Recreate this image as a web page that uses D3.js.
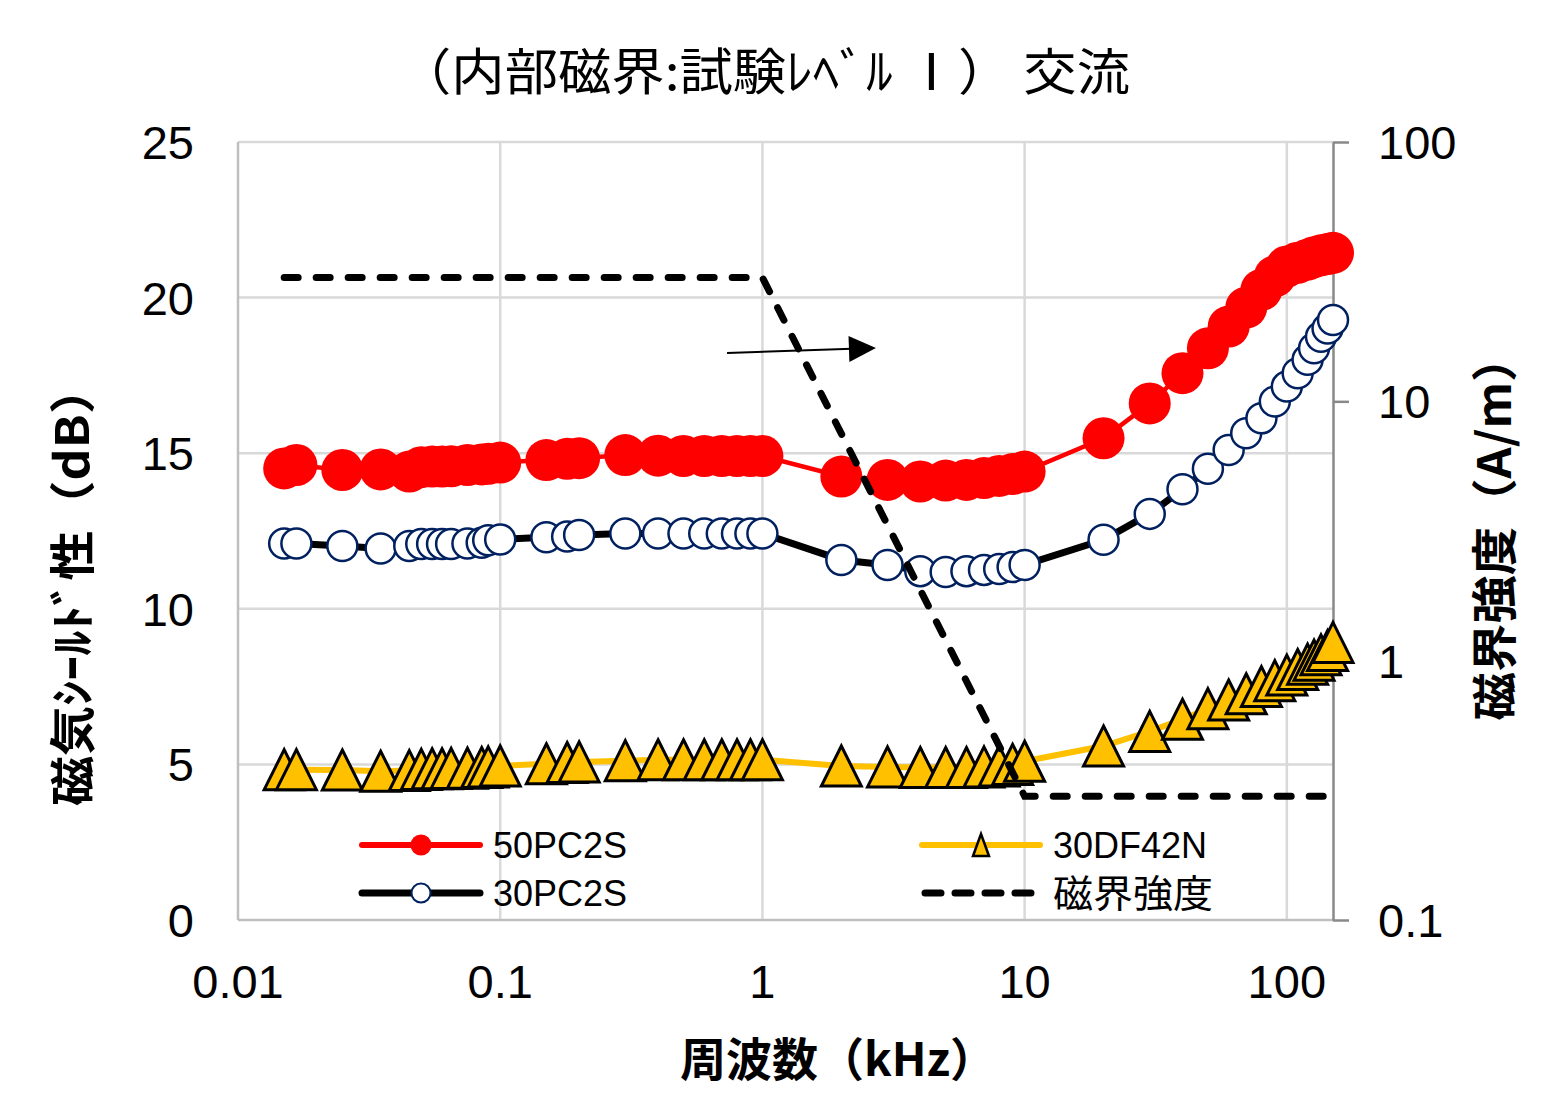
<!DOCTYPE html>
<html><head><meta charset="utf-8">
<script src="https://cdn.jsdelivr.net/npm/d3@7"></script>
<style>
html,body{margin:0;padding:0;background:#fff;}
svg{display:block;}
</style></head>
<body>
<svg id="chart" width="1559" height="1100"></svg>
<script>
// ---- data ----
const freq = [0.015, 0.0167, 0.025, 0.035, 0.045, 0.05, 0.055, 0.06, 0.065, 0.075, 0.085, 0.09, 0.1,
  0.15, 0.18, 0.2, 0.3, 0.4, 0.5, 0.6, 0.7, 0.8, 0.9, 1,
  2, 3, 4, 5, 6, 7, 8, 9, 10,
  20, 30, 40, 50, 60, 70, 80, 90, 100, 110, 120, 127, 135, 143, 150];
const s50PC2S = [14.51, 14.62, 14.46, 14.48, 14.41, 14.55, 14.57, 14.57, 14.58, 14.62, 14.64, 14.66, 14.70,
  14.78, 14.82, 14.84, 14.94, 14.92, 14.91, 14.91, 14.91, 14.91, 14.91, 14.91,
  14.25, 14.14, 14.09, 14.12, 14.14, 14.20, 14.27, 14.33, 14.41,
  15.48, 16.60, 17.57, 18.37, 19.07, 19.68, 20.25, 20.68, 21.00, 21.12, 21.22, 21.30, 21.36, 21.40, 21.44];
const s30PC2S = [12.10, 12.10, 12.02, 11.94, 12.02, 12.08, 12.08, 12.08, 12.08, 12.10, 12.12, 12.20, 12.23,
  12.30, 12.32, 12.37, 12.42, 12.42, 12.42, 12.42, 12.42, 12.42, 12.42, 12.42,
  11.57, 11.41, 11.21, 11.18, 11.21, 11.25, 11.28, 11.34, 11.41,
  12.22, 13.05, 13.84, 14.50, 15.10, 15.64, 16.12, 16.66, 17.14, 17.57, 18.00, 18.37, 18.74, 19.01, 19.28];
const s30DF42N = [4.83, 4.83, 4.82, 4.78, 4.80, 4.84, 4.86, 4.86, 4.87, 4.88, 4.90, 4.92, 4.95,
  5.02, 5.06, 5.08, 5.12, 5.15, 5.15, 5.15, 5.15, 5.15, 5.15, 5.15,
  4.95, 4.92, 4.90, 4.90, 4.90, 4.92, 4.95, 5.00, 5.10,
  5.59, 6.06, 6.45, 6.79, 7.07, 7.27, 7.50, 7.69, 7.87, 8.05, 8.22, 8.35, 8.52, 8.66, 8.92];
const fieldFreq = [0.015, 1, 10, 150];
const fieldStrength = [30, 30, 0.3, 0.3];
const xTicks = [0.01, 0.1, 1, 10, 100];
const xTickLabels = ["0.01", "0.1", "1", "10", "100"];
const yTicks = [0, 5, 10, 15, 20, 25];
const y2Ticks = [0.1, 1, 10, 100];
const y2TickLabels = ["0.1", "1", "10", "100"];
const arrowFreq = [0.733, 2.71];
const arrowDb = [18.22, 18.38];
const seriesNames = ["50PC2S", "30PC2S", "30DF42N", "磁界強度"];
const titleText = "（内部磁界:試験ﾚﾍﾞﾙ Ⅰ） 交流";
const xTitle = "周波数（kHz）";
const yTitle = "磁気ｼｰﾙﾄﾞ性（dB）";
const y2Title = "磁界強度（A/m）";

// ---- layout ----
const L = 238, R = 1333, T = 142, B = 920;
const svg = d3.select("#chart");
const num = "'Liberation Sans', Arial, sans-serif";
const jp = "'Noto Sans CJK JP', sans-serif";

const x = d3.scaleLog().domain([0.01, 150]).range([L, R]);
const y = d3.scaleLinear().domain([0, 25]).range([B, T]);
const y2 = d3.scaleLog().domain([0.1, 100]).range([B, T]);

// gridlines
const grid = svg.append("g");
grid.selectAll("line.h").data(yTicks.filter(d => d > 0)).join("line")
  .attr("x1", L).attr("x2", R).attr("y1", d => y(d)).attr("y2", d => y(d))
  .attr("stroke", "#d9d9d9").attr("stroke-width", 2.5);
grid.selectAll("line.v").data(xTicks.filter(d => d > 0.01)).join("line")
  .attr("x1", d => x(d)).attr("x2", d => x(d)).attr("y1", T).attr("y2", B)
  .attr("stroke", "#d9d9d9").attr("stroke-width", 2.5);

// axes lines
svg.append("line").attr("x1", L).attr("x2", L).attr("y1", T).attr("y2", B)
  .attr("stroke", "#bfbfbf").attr("stroke-width", 2.5);
svg.append("line").attr("x1", L).attr("x2", R).attr("y1", B).attr("y2", B)
  .attr("stroke", "#bfbfbf").attr("stroke-width", 2.5);

// right axis with d3 axis
const yAxisR = d3.axisRight(y2).tickValues(y2Ticks).tickFormat(() => "").tickSize(16).tickSizeOuter(0);
const gR = svg.append("g").attr("transform", `translate(${R},0)`).call(yAxisR);
gR.select(".domain").attr("stroke", "#898989").attr("stroke-width", 2.5);
gR.selectAll(".tick line").attr("stroke", "#898989").attr("stroke-width", 2.5);
svg.append("g").selectAll("text").data(y2Ticks).join("text")
  .attr("x", 1378).attr("y", d => y2(d) + 17)
  .attr("font-family", num).attr("font-size", 47).attr("fill", "#000")
  .text((d, i) => y2TickLabels[i]);

// left tick labels
svg.append("g").selectAll("text").data(yTicks).join("text")
  .attr("x", 194).attr("y", d => y(d) + 17).attr("text-anchor", "end")
  .attr("font-family", num).attr("font-size", 47).attr("fill", "#000")
  .text(d => d);
// bottom tick labels
svg.append("g").selectAll("text").data(xTicks).join("text")
  .attr("x", d => x(d)).attr("y", 998).attr("text-anchor", "middle")
  .attr("font-family", num).attr("font-size", 47).attr("fill", "#000")
  .text((d, i) => xTickLabels[i]);

// series data
const d50 = freq.map((f, i) => [f, s50PC2S[i]]);
const d30 = freq.map((f, i) => [f, s30PC2S[i]]);
const dDF = freq.map((f, i) => [f, s30DF42N[i]]);
const dField = fieldFreq.map((f, i) => [f, fieldStrength[i]]);
const line = d3.line().x(d => x(d[0])).y(d => y(d[1]));
const line2 = d3.line().x(d => x(d[0])).y(d => y2(d[1]));

const tri = s => `M0,${-s}L${s},${s}L${-s},${s}Z`;

// 50PC2S
svg.append("path").attr("d", line(d50)).attr("fill", "none").attr("stroke", "#ff0000").attr("stroke-width", 4.5);
svg.append("g").selectAll("circle").data(d50).join("circle")
  .attr("cx", d => x(d[0])).attr("cy", d => y(d[1])).attr("r", 21).attr("fill", "#ff0000");
// 30PC2S
svg.append("path").attr("d", line(d30)).attr("fill", "none").attr("stroke", "#000").attr("stroke-width", 7);
svg.append("g").selectAll("circle").data(d30).join("circle")
  .attr("cx", d => x(d[0])).attr("cy", d => y(d[1])).attr("r", 15)
  .attr("fill", "#fff").attr("stroke", "#002060").attr("stroke-width", 2.5);
// 30DF42N
svg.append("path").attr("d", line(dDF)).attr("fill", "none").attr("stroke", "#ffc000").attr("stroke-width", 6);
svg.append("g").selectAll("path").data(dDF).join("path")
  .attr("transform", d => `translate(${x(d[0])},${y(d[1])})`).attr("d", tri(20))
  .attr("fill", "#ffc000").attr("stroke", "#000").attr("stroke-width", 3).attr("stroke-linejoin", "miter");
// field strength (secondary axis)
svg.append("path").attr("d", line2(dField)).attr("fill", "none").attr("stroke", "#000")
  .attr("stroke-width", 7).attr("stroke-dasharray", "14,18").attr("stroke-linecap", "round");

// arrow annotation
const ax1 = x(arrowFreq[0]), ay1 = y(arrowDb[0]), ax2 = x(arrowFreq[1]), ay2 = y(arrowDb[1]);
const ang = Math.atan2(ay2 - ay1, ax2 - ax1);
svg.append("line").attr("x1", ax1).attr("y1", ay1)
  .attr("x2", ax2 - 24 * Math.cos(ang)).attr("y2", ay2 - 24 * Math.sin(ang))
  .attr("stroke", "#000").attr("stroke-width", 2);
svg.append("path").attr("d", "M0,0L-27,-13L-27,13Z")
  .attr("transform", `translate(${ax2},${ay2}) rotate(${ang * 180 / Math.PI})`).attr("fill", "#000");

// legend
const legend = svg.append("g");
const legItems = [
  {name: seriesNames[0], lx: 362, ly: 845, type: "red"},
  {name: seriesNames[1], lx: 362, ly: 893, type: "blue"},
  {name: seriesNames[2], lx: 922, ly: 845, type: "tri"},
  {name: seriesNames[3], lx: 922, ly: 893, type: "dash"}
];
legItems.forEach(it => {
  const g = legend.append("g").attr("transform", `translate(${it.lx},${it.ly})`);
  if (it.type === "red") {
    g.append("line").attr("x1", 0).attr("x2", 118).attr("stroke", "#ff0000").attr("stroke-width", 6).attr("stroke-linecap", "round");
    g.append("circle").attr("cx", 59).attr("r", 10.5).attr("fill", "#ff0000");
  } else if (it.type === "blue") {
    g.append("line").attr("x1", 0).attr("x2", 118).attr("stroke", "#000").attr("stroke-width", 7).attr("stroke-linecap", "round");
    g.append("circle").attr("cx", 59).attr("r", 9.5).attr("fill", "#fff").attr("stroke", "#002060").attr("stroke-width", 2);
  } else if (it.type === "tri") {
    g.append("line").attr("x1", 0).attr("x2", 118).attr("stroke", "#ffc000").attr("stroke-width", 6).attr("stroke-linecap", "round");
    g.append("path").attr("d", "M0,-11L8,11L-8,11Z").attr("transform", "translate(59,0)")
      .attr("fill", "#ffc000").attr("stroke", "#000").attr("stroke-width", 2.5);
  } else {
    g.append("line").attr("x1", 3).attr("x2", 118).attr("stroke", "#000").attr("stroke-width", 7)
      .attr("stroke-dasharray", "16,14").attr("stroke-linecap", "round");
  }
  const t = g.append("text").attr("x", 131).attr("y", 13).attr("font-family", it.type === "dash" ? jp : num)
    .attr("font-size", it.type === "dash" ? 38 : 36).attr("fill", "#000").text(it.name);
  if (it.type === "dash") t.attr("y", 14).attr("textLength", 160).attr("lengthAdjust", "spacingAndGlyphs");
});

// titles
svg.append("text").attr("x", 764).attr("y", 90).attr("text-anchor", "middle")
  .attr("font-family", jp).attr("font-size", 50).attr("fill", "#000")
  .attr("textLength", 732).attr("lengthAdjust", "spacingAndGlyphs").text(titleText);
svg.append("text").attr("x", 838).attr("y", 1076).attr("text-anchor", "middle")
  .attr("font-family", jp).attr("font-weight", "bold").attr("font-size", 46).attr("fill", "#000")
  .attr("textLength", 316).attr("lengthAdjust", "spacingAndGlyphs").text(xTitle);
svg.append("text").attr("transform", "translate(89,585) rotate(-90)").attr("text-anchor", "middle")
  .attr("font-family", jp).attr("font-weight", "bold").attr("font-size", 46).attr("fill", "#000")
  .attr("textLength", 442).attr("lengthAdjust", "spacingAndGlyphs").text(yTitle);
svg.append("text").attr("transform", "translate(1511,527) rotate(-90)").attr("text-anchor", "middle")
  .attr("font-family", jp).attr("font-weight", "bold").attr("font-size", 46).attr("fill", "#000")
  .attr("textLength", 387).attr("lengthAdjust", "spacingAndGlyphs").text(y2Title);
</script>
</body></html>
